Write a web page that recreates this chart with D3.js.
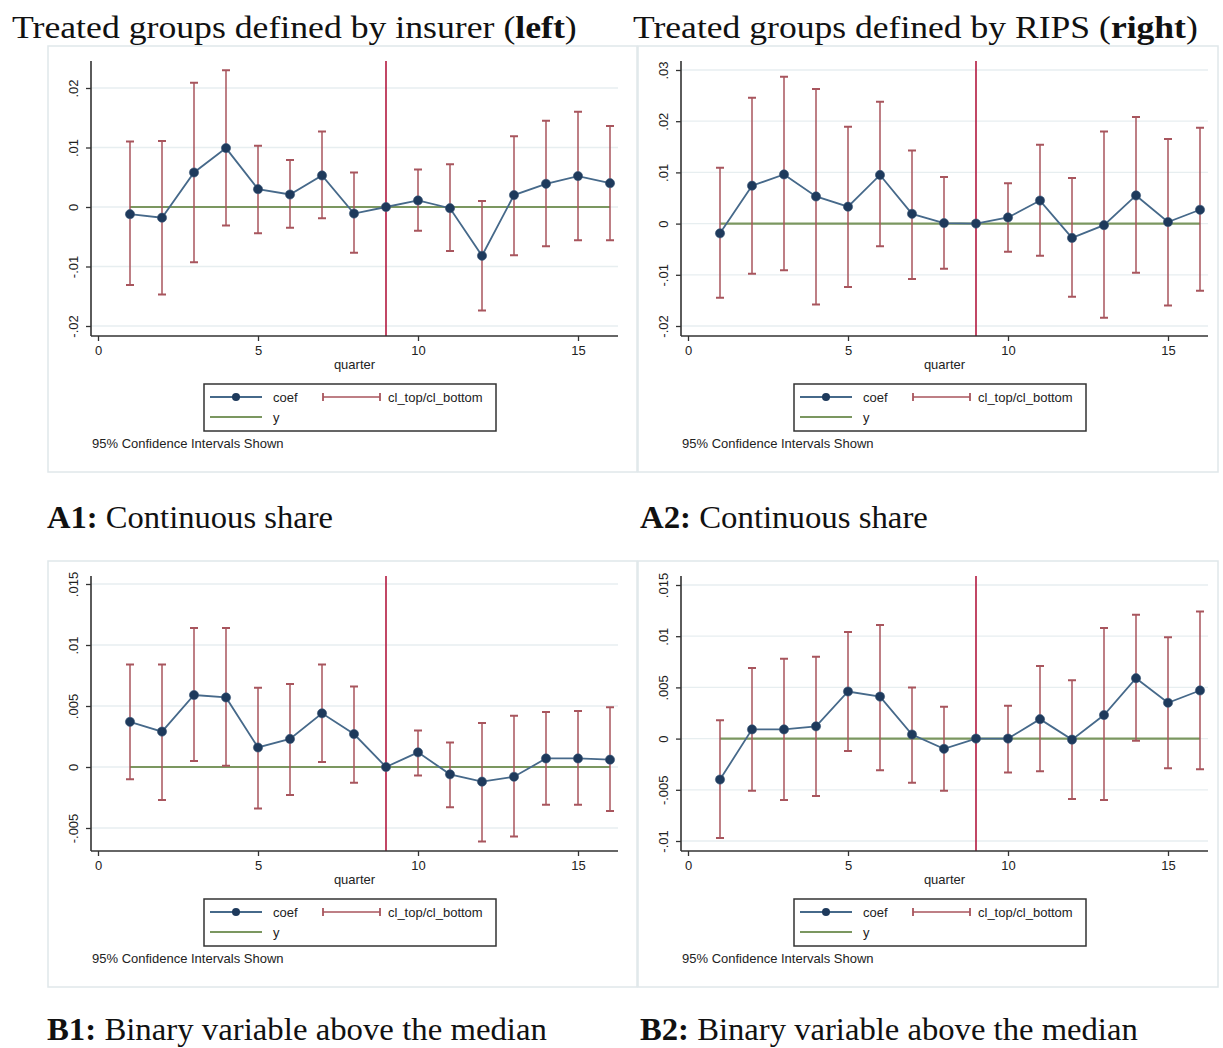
<!DOCTYPE html>
<html>
<head>
<meta charset="utf-8">
<script src="https://cdn.jsdelivr.net/npm/d3@7"></script>
<style>
  html, body { margin: 0; padding: 0; background: #fff; }
  svg { display: block; }
</style>
</head>
<body>
<div id="chart"></div>
<script>
// event-study coefficients by quarter, quarter 9 is the reference period (no CI)
const quarters = [1, 2, 3, 4, 5, 6, 7, 8, 9, 10, 11, 12, 13, 14, 15, 16];
const xTicks = [0, 5, 10, 15];
const refQuarter = 9;

// A1: insurer, continuous share
const a1Coef = [-0.0012, -0.0018, 0.0058, 0.0099, 0.0030, 0.0021, 0.0053, -0.0011, 0, 0.0011, -0.0002, -0.0082, 0.0020, 0.0039, 0.0052, 0.0040];
const a1Top = [0.0110, 0.0111, 0.0209, 0.0230, 0.0103, 0.0079, 0.0127, 0.0058, null, 0.0063, 0.0072, 0.0010, 0.0119, 0.0145, 0.0160, 0.0136];
const a1Bot = [-0.0131, -0.0147, -0.0093, -0.0031, -0.0044, -0.0035, -0.0019, -0.0077, null, -0.0040, -0.0074, -0.0174, -0.0081, -0.0066, -0.0056, -0.0056];
const a1Ticks = [-0.02, -0.01, 0, 0.01, 0.02];

// A2: RIPS, continuous share
const a2Coef = [-0.0019, 0.0074, 0.0096, 0.0053, 0.0033, 0.0095, 0.0019, 0.0001, 0, 0.0012, 0.0045, -0.0028, -0.0003, 0.0055, 0.0003, 0.0027];
const a2Top = [0.0109, 0.0246, 0.0287, 0.0263, 0.0189, 0.0238, 0.0143, 0.0091, null, 0.0079, 0.0154, 0.0089, 0.0180, 0.0208, 0.0165, 0.0187];
const a2Bot = [-0.0145, -0.0098, -0.0091, -0.0158, -0.0124, -0.0044, -0.0108, -0.0088, null, -0.0055, -0.0063, -0.0143, -0.0184, -0.0096, -0.0160, -0.0131];
const a2Ticks = [-0.02, -0.01, 0, 0.01, 0.02, 0.03];

// B1: insurer, binary above median
const b1Coef = [0.0037, 0.0029, 0.0059, 0.0057, 0.0016, 0.0023, 0.0044, 0.0027, 0, 0.0012, -0.0006, -0.0012, -0.0008, 0.0007, 0.0007, 0.0006];
const b1Top = [0.0084, 0.0084, 0.0114, 0.0114, 0.0065, 0.0068, 0.0084, 0.0066, null, 0.0030, 0.0020, 0.0036, 0.0042, 0.0045, 0.0046, 0.0049];
const b1Bot = [-0.0010, -0.0027, 0.0005, 0.0001, -0.0034, -0.0023, 0.0004, -0.0013, null, -0.0007, -0.0033, -0.0061, -0.0057, -0.0031, -0.0031, -0.0036];
const b1Ticks = [-0.005, 0, 0.005, 0.01, 0.015];

// B2: RIPS, binary above median
const b2Coef = [-0.0040, 0.0009, 0.0009, 0.0012, 0.0046, 0.0041, 0.0004, -0.0010, 0, 0, 0.0019, -0.0001, 0.0023, 0.0059, 0.0035, 0.0047];
const b2Top = [0.0018, 0.0069, 0.0078, 0.0080, 0.0104, 0.0111, 0.0050, 0.0031, null, 0.0032, 0.0071, 0.0057, 0.0108, 0.0121, 0.0099, 0.0124];
const b2Bot = [-0.0097, -0.0051, -0.0060, -0.0056, -0.0012, -0.0031, -0.0043, -0.0051, null, -0.0033, -0.0032, -0.0059, -0.0060, -0.0002, -0.0029, -0.0030];
const b2Ticks = [-0.01, -0.005, 0, 0.005, 0.01, 0.015];

const legendLabels = ["coef", "cl_top/cl_bottom", "y"];
const note = "95% Confidence Intervals Shown";
const xTitle = "quarter";

const W = 1223, H = 1048;
const serif = "'Liberation Serif', 'Times New Roman', serif";
const sans = "'Liberation Sans', Arial, sans-serif";

const col = {
  coef: "#46698a",
  marker: "#1e3a5c",
  ci: "#a8555d",
  zero: "#7b9760",
  vline: "#b3193f",
  grid: "#e7eef0",
  axis: "#333",
  frame: "#e0e7ea"
};

const svg = d3.select("#chart").append("svg")
  .attr("width", W)
  .attr("height", H);

// text squeezed/stretched to a target width, like the scanned figure
function fittedText(x, y, parts, size, width) {
  const t = svg.append("text")
    .attr("font-family", serif)
    .attr("font-size", size)
    .attr("fill", "#111");
  parts.forEach(p => {
    t.append("tspan").attr("font-weight", p.bold ? "bold" : "normal").text(p.text);
  });
  const len = t.node().getComputedTextLength();
  t.attr("transform", `translate(${x},${y}) scale(${width / len},1)`);
}

fittedText(12, 38, [{ text: "Treated groups defined by insurer (" }, { text: "left", bold: true }, { text: ")" }], 32, 565);
fittedText(633, 38, [{ text: "Treated groups defined by RIPS (" }, { text: "right", bold: true }, { text: ")" }], 32, 565);
fittedText(47, 528, [{ text: "A1:", bold: true }, { text: " Continuous share" }], 31, 286);
fittedText(640, 528, [{ text: "A2:", bold: true }, { text: " Continuous share" }], 31, 288);
fittedText(47, 1040, [{ text: "B1:", bold: true }, { text: " Binary variable above the median" }], 31, 500);
fittedText(640, 1040, [{ text: "B2:", bold: true }, { text: " Binary variable above the median" }], 31, 498);

const panels = [
  { x: 48, y: 48, w: 589, coef: a1Coef, top: a1Top, bot: a1Bot, ticks: a1Ticks, px: [278, 40] },
  { x: 638, y: 48, w: 580, coef: a2Coef, top: a2Top, bot: a2Bot, ticks: a2Ticks, px: [278, 22] },
  { x: 48, y: 563, w: 589, coef: b1Coef, top: b1Top, bot: b1Bot, ticks: b1Ticks, px: [265, 21] },
  { x: 638, y: 563, w: 580, coef: b2Coef, top: b2Top, bot: b2Bot, ticks: b2Ticks, px: [278, 22] }
];

// Stata-style labels: ".01", "-.005", "0"
const stataFmt = v => v === 0 ? "0" : String(+v.toFixed(4)).replace("0.", ".");

const plotLeft = 43, plotRight = 570, plotTop = 13, plotBottom = 288;

panels.forEach(p => {
  const g = svg.append("g").attr("transform", `translate(${p.x},${p.y})`);

  g.append("rect")
    .attr("x", 0).attr("y", -2)
    .attr("width", p.w).attr("height", 426)
    .attr("fill", "#fff")
    .attr("stroke", col.frame)
    .attr("stroke-width", 1.5);

  const x = d3.scaleLinear().domain([0, 16]).range([50, 562]);
  const y = d3.scaleLinear()
    .domain([d3.min(p.ticks), d3.max(p.ticks)])
    .range(p.px);

  // grid
  g.append("g").selectAll("line")
    .data(p.ticks)
    .join("line")
    .attr("x1", plotLeft).attr("x2", plotRight)
    .attr("y1", d => y(d)).attr("y2", d => y(d))
    .attr("stroke", col.grid)
    .attr("stroke-width", 1.3);

  // reference quarter
  g.append("line")
    .attr("x1", x(refQuarter)).attr("x2", x(refQuarter))
    .attr("y1", plotTop).attr("y2", plotBottom)
    .attr("stroke", col.vline)
    .attr("stroke-width", 1.6);

  // y = 0 line
  g.append("line")
    .attr("x1", x(quarters[0])).attr("x2", x(quarters[quarters.length - 1]))
    .attr("y1", y(0)).attr("y2", y(0))
    .attr("stroke", col.zero)
    .attr("stroke-width", 2.2);

  const rows = quarters.map((q, i) => ({ q, coef: p.coef[i], top: p.top[i], bot: p.bot[i] }));
  const ciRows = rows.filter(d => d.top !== null);

  // confidence intervals (rcap)
  const ci = g.append("g")
    .attr("stroke", col.ci)
    .attr("stroke-width", 1.5)
    .attr("fill", "none");
  ci.selectAll("line.bar")
    .data(ciRows)
    .join("line")
    .attr("class", "bar")
    .attr("x1", d => x(d.q)).attr("x2", d => x(d.q))
    .attr("y1", d => y(d.top)).attr("y2", d => y(d.bot));
  ci.selectAll("path.cap")
    .data(ciRows)
    .join("path")
    .attr("class", "cap")
    .attr("stroke-width", 2)
    .attr("d", d => `M${x(d.q) - 4},${y(d.top)}H${x(d.q) + 4}M${x(d.q) - 4},${y(d.bot)}H${x(d.q) + 4}`);

  // coefficients
  g.append("path")
    .datum(rows)
    .attr("fill", "none")
    .attr("stroke", col.coef)
    .attr("stroke-width", 1.8)
    .attr("d", d3.line().x(d => x(d.q)).y(d => y(d.coef)));

  g.append("g").selectAll("circle")
    .data(rows)
    .join("circle")
    .attr("cx", d => x(d.q))
    .attr("cy", d => y(d.coef))
    .attr("r", 4.6)
    .attr("fill", col.marker)
    .attr("stroke", "#3a5576")
    .attr("stroke-width", 0.6);

  // y axis
  const yAxis = g.append("g")
    .attr("transform", `translate(${plotLeft},0)`)
    .call(d3.axisLeft(y).tickValues(p.ticks).tickFormat(stataFmt).tickSize(5));
  yAxis.select(".domain").remove();
  yAxis.selectAll(".tick line").attr("stroke", col.axis).attr("stroke-width", 1.3);
  yAxis.selectAll(".tick text")
    .attr("transform", "rotate(-90)")
    .attr("x", 0).attr("y", -13).attr("dy", 0)
    .attr("text-anchor", "middle")
    .attr("font-family", sans)
    .attr("font-size", 13)
    .attr("fill", "#222");
  g.append("line")
    .attr("x1", plotLeft).attr("x2", plotLeft)
    .attr("y1", plotTop).attr("y2", plotBottom)
    .attr("stroke", col.axis).attr("stroke-width", 1.6);

  // x axis
  const xAxis = g.append("g")
    .attr("transform", `translate(0,${plotBottom})`)
    .call(d3.axisBottom(x).tickValues(xTicks).tickSize(5).tickPadding(5));
  xAxis.select(".domain").remove();
  xAxis.selectAll(".tick line").attr("stroke", col.axis).attr("stroke-width", 1.3);
  xAxis.selectAll(".tick text")
    .attr("font-family", sans)
    .attr("font-size", 13)
    .attr("fill", "#222");
  g.append("line")
    .attr("x1", plotLeft).attr("x2", plotRight)
    .attr("y1", plotBottom).attr("y2", plotBottom)
    .attr("stroke", col.axis).attr("stroke-width", 1.6);

  g.append("text")
    .attr("x", (plotLeft + plotRight) / 2)
    .attr("y", 321)
    .attr("text-anchor", "middle")
    .attr("font-family", sans)
    .attr("font-size", 13)
    .attr("fill", "#222")
    .text(xTitle);

  // legend
  const lg = g.append("g").attr("transform", "translate(156,336)");
  lg.append("rect")
    .attr("width", 292).attr("height", 47)
    .attr("fill", "#fff")
    .attr("stroke", col.axis)
    .attr("stroke-width", 1.5);
  lg.append("line")
    .attr("x1", 6).attr("x2", 58).attr("y1", 13).attr("y2", 13)
    .attr("stroke", col.coef).attr("stroke-width", 1.8);
  lg.append("circle")
    .attr("cx", 32).attr("cy", 13).attr("r", 4)
    .attr("fill", col.marker);
  lg.append("line")
    .attr("x1", 119).attr("x2", 176).attr("y1", 13).attr("y2", 13)
    .attr("stroke", col.ci).attr("stroke-width", 1.5);
  lg.append("path")
    .attr("d", "M119,9V17M176,9V17")
    .attr("stroke", col.ci).attr("stroke-width", 1.8);
  lg.append("line")
    .attr("x1", 6).attr("x2", 58).attr("y1", 33).attr("y2", 33)
    .attr("stroke", col.zero).attr("stroke-width", 2.2);
  lg.selectAll("text")
    .data([{ t: legendLabels[0], x: 69, y: 13 }, { t: legendLabels[1], x: 184, y: 13 }, { t: legendLabels[2], x: 69, y: 33 }])
    .join("text")
    .attr("x", d => d.x).attr("y", d => d.y + 4.5)
    .attr("font-family", sans)
    .attr("font-size", 13)
    .attr("fill", "#222")
    .text(d => d.t);

  g.append("text")
    .attr("x", 44).attr("y", 400)
    .attr("font-family", sans)
    .attr("font-size", 13)
    .attr("fill", "#222")
    .text(note);
});
</script>
</body>
</html>
